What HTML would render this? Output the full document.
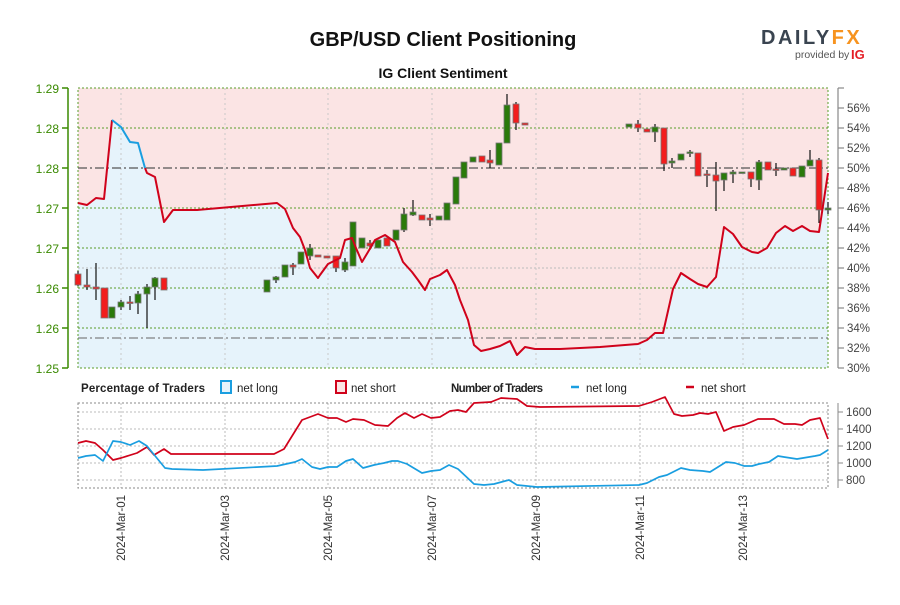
<!DOCTYPE html>
<html><head><meta charset="utf-8"><style>
body{margin:0;background:#fff;width:900px;height:600px;overflow:hidden}
svg text{font-family:"Liberation Sans",sans-serif}
</style></head><body>
<svg width="900" height="600" viewBox="0 0 900 600" xmlns="http://www.w3.org/2000/svg">
<text x="443" y="46" text-anchor="middle" font-size="20" font-weight="bold" fill="#111">GBP/USD Client Positioning</text>
<text x="443" y="78" text-anchor="middle" font-size="14" font-weight="bold" fill="#111">IG Client Sentiment</text>
<text x="761" y="44" font-size="20" font-weight="bold" fill="#3a4450" letter-spacing="2.5">DAILY<tspan fill="#f7931e">FX</tspan></text>
<text x="795" y="58" font-size="10.5" fill="#555">provided by</text>
<text x="851" y="59" font-size="13" font-weight="bold" fill="#e41e26">IG</text>

<rect x="78" y="88" width="750" height="280" fill="#fbe4e4"/>
<polygon fill="#e6f3fb" points="78,368 78,203 87,205 96,198 104,199 112,120 121,127 130,142 138,143 147,173 155,177 164,222 173,210 197,210 277,203 285,209 293,228 300,237 305,250 310,268 318,278 320,275 328,264 340,258 345,240 352,238 356,248 362,262 368,252 375,240 385,235 395,242 403,262 412,272 418,280 425,290 430,279 440,275 447,270 455,285 460,300 468,320 474,345 481,351 490,349 500,346 510,341 517,355 525,347 535,349 560,349 600,347 638,344 647,340 655,333 663,333 673,289 681,273 690,279 698,284 707,287 716,277 724,227 733,234 742,247 752,252 758,253 767,248 776,233 785,226 793,231 802,226 810,231 819,232 828,173 828,368"/>
<g stroke="#5a9e2a" stroke-dasharray="2,2" stroke-width="1">
<line x1="78" y1="128" x2="828" y2="128"/><line x1="78" y1="208" x2="828" y2="208"/><line x1="78" y1="248" x2="828" y2="248"/><line x1="78" y1="288" x2="828" y2="288"/><line x1="78" y1="328" x2="828" y2="328"/>
<rect x="78" y="88" width="750" height="280" fill="none"/>
</g>
<line x1="78" y1="268" x2="828" y2="268" stroke="#bbb" stroke-dasharray="2,2"/>
<g stroke="#c8c8c8" stroke-dasharray="2,3">
<line x1="121" y1="88" x2="121" y2="368"/><line x1="225" y1="88" x2="225" y2="368"/><line x1="328" y1="88" x2="328" y2="368"/><line x1="432" y1="88" x2="432" y2="368"/><line x1="536" y1="88" x2="536" y2="368"/><line x1="640" y1="88" x2="640" y2="368"/><line x1="743" y1="88" x2="743" y2="368"/>
</g>
<line x1="78" y1="168" x2="828" y2="168" stroke="#555" stroke-dasharray="9,3,2,3" stroke-width="1.3"/>
<line x1="78" y1="338" x2="828" y2="338" stroke="#666" stroke-dasharray="9,3,2,3" stroke-width="1.1"/>

<g stroke="#111" stroke-width="1.2">
<line x1="78" y1="271" x2="78" y2="286"/><line x1="87" y1="269" x2="87" y2="290"/><line x1="96" y1="263" x2="96" y2="300"/><line x1="104" y1="288" x2="104" y2="318"/><line x1="121" y1="300" x2="121" y2="310"/><line x1="130" y1="296" x2="130" y2="310"/><line x1="138" y1="291" x2="138" y2="314"/><line x1="147" y1="284" x2="147" y2="328"/><line x1="155" y1="277" x2="155" y2="300"/>
<line x1="276" y1="276" x2="276" y2="283"/><line x1="293" y1="263" x2="293" y2="275"/><line x1="310" y1="244" x2="310" y2="260"/><line x1="336" y1="256" x2="336" y2="272"/><line x1="345" y1="258" x2="345" y2="272"/><line x1="370" y1="240" x2="370" y2="250"/><line x1="404" y1="208" x2="404" y2="232"/><line x1="413" y1="200" x2="413" y2="216"/><line x1="430" y1="214" x2="430" y2="226"/><line x1="490" y1="150" x2="490" y2="168"/><line x1="507" y1="94" x2="507" y2="143"/><line x1="516" y1="102" x2="516" y2="130"/>
<line x1="638" y1="120" x2="638" y2="132"/><line x1="655" y1="124" x2="655" y2="142"/><line x1="664" y1="128" x2="664" y2="171"/><line x1="672" y1="158" x2="672" y2="168"/><line x1="690" y1="150" x2="690" y2="157"/><line x1="707" y1="170" x2="707" y2="187"/><line x1="716" y1="162" x2="716" y2="211"/><line x1="724" y1="173" x2="724" y2="191"/><line x1="733" y1="170" x2="733" y2="183"/><line x1="751" y1="172" x2="751" y2="187"/><line x1="759" y1="160" x2="759" y2="190"/><line x1="776" y1="163" x2="776" y2="176"/><line x1="810" y1="150" x2="810" y2="166"/><line x1="819" y1="158" x2="819" y2="223"/><line x1="828" y1="202" x2="828" y2="214"/>
</g>
<g stroke="#777" stroke-width="0.8">
<g fill="#f21d1d">
<rect x="75" y="274" width="6" height="11"/><rect x="84" y="285" width="6" height="2"/><rect x="93" y="287" width="6" height="2"/><rect x="101" y="288" width="7" height="30"/><rect x="127" y="302" width="6" height="1.5"/><rect x="161" y="278" width="6" height="12"/>
<rect x="290" y="265" width="6" height="2"/><rect x="315" y="255" width="6" height="2"/><rect x="324" y="256" width="6" height="2"/><rect x="333" y="256" width="6" height="12"/><rect x="367" y="243" width="6" height="3"/><rect x="384" y="238" width="6" height="8"/><rect x="419" y="215" width="6" height="5"/><rect x="427" y="218" width="6" height="2"/><rect x="479" y="156" width="6" height="6"/><rect x="487" y="160" width="6" height="3"/><rect x="513" y="104" width="6" height="19"/><rect x="522" y="123" width="6" height="2"/>
<rect x="635" y="124" width="6" height="4"/><rect x="644" y="129" width="6" height="3"/><rect x="661" y="128" width="6" height="36"/><rect x="695" y="153" width="6" height="23"/><rect x="704" y="174" width="6" height="1.5"/><rect x="713" y="175" width="6" height="6"/><rect x="748" y="172" width="6" height="7"/><rect x="765" y="162" width="6" height="8"/><rect x="773" y="169" width="6" height="1.5"/><rect x="790" y="168" width="6" height="8"/><rect x="816" y="160" width="6" height="50"/>
</g>
<g fill="#2a7a0a">
<rect x="109" y="307" width="6" height="11"/><rect x="118" y="302" width="6" height="5"/><rect x="135" y="294" width="6" height="9"/><rect x="144" y="287" width="6" height="7"/><rect x="152" y="278" width="6" height="9"/>
<rect x="264" y="280" width="6" height="12"/><rect x="273" y="277" width="6" height="3"/><rect x="282" y="265" width="6" height="12"/><rect x="298" y="252" width="6" height="12"/><rect x="307" y="248" width="6" height="8"/><rect x="342" y="262" width="6" height="8"/><rect x="350" y="222" width="6" height="44"/><rect x="359" y="238" width="6" height="10"/><rect x="375" y="240" width="6" height="8"/><rect x="393" y="230" width="6" height="10"/><rect x="401" y="214" width="6" height="16"/><rect x="410" y="212" width="6" height="3"/><rect x="436" y="216" width="6" height="4"/><rect x="444" y="203" width="6" height="17"/><rect x="453" y="177" width="6" height="27"/><rect x="461" y="162" width="6" height="16"/><rect x="470" y="157" width="6" height="5"/><rect x="496" y="143" width="6" height="22"/><rect x="504" y="105" width="6" height="38"/>
<rect x="626" y="124" width="6" height="3"/><rect x="652" y="127" width="6" height="5"/><rect x="669" y="161" width="6" height="2"/><rect x="678" y="154" width="6" height="6"/><rect x="687" y="152" width="6" height="1.5"/><rect x="721" y="173" width="6" height="7"/><rect x="730" y="172" width="6" height="2"/><rect x="739" y="172" width="6" height="1.5"/><rect x="756" y="162" width="6" height="18"/><rect x="781" y="168" width="6" height="2"/><rect x="799" y="166" width="6" height="11"/><rect x="807" y="160" width="6" height="6"/><rect x="825" y="208" width="6" height="2"/>
</g></g>

<polyline fill="none" stroke="#d0021b" stroke-width="2" stroke-linejoin="round" points="78,203 87,205 96,198 104,199 112,120"/>
<polyline fill="none" stroke="#d0021b" stroke-width="2" stroke-linejoin="round" points="145,168 147,173 155,177 164,222 173,210 197,210 277,203 285,209 293,228 300,237 305,250 310,268 318,278 320,275 328,264 340,258 345,240 352,238 356,248 362,262 368,252 375,240 385,235 395,242 403,262 412,272 418,280 425,290 430,279 440,275 447,270 455,285 460,300 468,320 474,345 481,351 490,349 500,346 510,341 517,355 525,347 535,349 560,349 600,347 638,344 647,340 655,333 663,333 673,289 681,273 690,279 698,284 707,287 716,277 724,227 733,234 742,247 752,252 758,253 767,248 776,233 785,226 793,231 802,226 810,231 819,232 828,173"/>
<polyline fill="none" stroke="#1a9ee0" stroke-width="2" stroke-linejoin="round" points="112,120 121,127 130,142 138,143 145,168"/>

<g stroke="#3a8a00" stroke-width="1.5"><line x1="68" y1="88" x2="68" y2="368"/>
<line x1="62" y1="88" x2="68" y2="88"/><line x1="62" y1="128" x2="68" y2="128"/><line x1="62" y1="168" x2="68" y2="168"/><line x1="62" y1="208" x2="68" y2="208"/><line x1="62" y1="248" x2="68" y2="248"/><line x1="62" y1="288" x2="68" y2="288"/><line x1="62" y1="328" x2="68" y2="328"/><line x1="62" y1="368" x2="68" y2="368"/></g>
<g font-size="12" fill="#3a8a00" text-anchor="end">
<text x="59" y="93">1.29</text><text x="59" y="133">1.28</text><text x="59" y="173">1.28</text><text x="59" y="213">1.27</text><text x="59" y="253">1.27</text><text x="59" y="293">1.26</text><text x="59" y="333">1.26</text><text x="59" y="373">1.25</text></g>
<g stroke="#888" stroke-width="1.2"><line x1="838" y1="88" x2="838" y2="368"/>
<line x1="838" y1="88" x2="844" y2="88"/><line x1="838" y1="108" x2="844" y2="108"/><line x1="838" y1="128" x2="844" y2="128"/><line x1="838" y1="148" x2="844" y2="148"/><line x1="838" y1="168" x2="844" y2="168"/><line x1="838" y1="188" x2="844" y2="188"/><line x1="838" y1="208" x2="844" y2="208"/><line x1="838" y1="228" x2="844" y2="228"/><line x1="838" y1="248" x2="844" y2="248"/><line x1="838" y1="268" x2="844" y2="268"/><line x1="838" y1="288" x2="844" y2="288"/><line x1="838" y1="308" x2="844" y2="308"/><line x1="838" y1="328" x2="844" y2="328"/><line x1="838" y1="348" x2="844" y2="348"/><line x1="838" y1="368" x2="844" y2="368"/></g>
<g font-size="11.5" fill="#444">
<text x="847" y="112">56%</text><text x="847" y="132">54%</text><text x="847" y="152">52%</text><text x="847" y="172">50%</text><text x="847" y="192">48%</text><text x="847" y="212">46%</text><text x="847" y="232">44%</text><text x="847" y="252">42%</text><text x="847" y="272">40%</text><text x="847" y="292">38%</text><text x="847" y="312">36%</text><text x="847" y="332">34%</text><text x="847" y="352">32%</text><text x="847" y="372">30%</text></g>

<g font-size="11.5" fill="#222">
<text x="81" y="392" font-weight="bold" textLength="124">Percentage of Traders</text>
<rect x="221" y="381" width="10" height="12" fill="#e6f3fb" stroke="#1a9ee0" stroke-width="2"/><text x="237" y="392">net long</text>
<rect x="336" y="381" width="10" height="12" fill="#fbe4e4" stroke="#d0021b" stroke-width="2"/><text x="351" y="392">net short</text>
<text x="451" y="392" font-weight="bold" textLength="92">Number of Traders</text>
<line x1="571" y1="387" x2="579" y2="387" stroke="#1a9ee0" stroke-width="2.5"/><text x="586" y="392">net long</text>
<line x1="686" y1="387" x2="694" y2="387" stroke="#d0021b" stroke-width="2.5"/><text x="701" y="392">net short</text>
</g>

<g stroke="#bbb" stroke-dasharray="2,2">
<line x1="78" y1="412" x2="828" y2="412"/><line x1="78" y1="429" x2="828" y2="429"/><line x1="78" y1="446" x2="828" y2="446"/><line x1="78" y1="463" x2="828" y2="463"/><line x1="78" y1="480" x2="828" y2="480"/>
<line x1="121" y1="403" x2="121" y2="488"/><line x1="225" y1="403" x2="225" y2="488"/><line x1="328" y1="403" x2="328" y2="488"/><line x1="432" y1="403" x2="432" y2="488"/><line x1="536" y1="403" x2="536" y2="488"/><line x1="640" y1="403" x2="640" y2="488"/><line x1="743" y1="403" x2="743" y2="488"/>
</g>
<rect x="78" y="403" width="750" height="85" fill="none" stroke="#888" stroke-dasharray="2,2"/>
<polyline fill="none" stroke="#d0021b" stroke-width="1.7" stroke-linejoin="round" points="78,443 86,441 95,443 103,450 113,460 121,458 137,453 147,447 154,455 164,449 171,454 274,454 284,449 302,420 318,414 328,418 337,418 346,422 353,419 364,420 375,425 388,426 397,418 405,413 414,418 422,414 431,418 440,417 450,411 458,410 466,412 474,403 491,402 501,398 517,399 527,406 540,407 639,406 652,402 665,397 674,414 682,416 693,415 700,413 708,414 716,412 724,431 733,427 744,425 758,419 764,419 774,419 784,424 795,424 802,425 810,420 820,418 828,439"/>
<polyline fill="none" stroke="#1a9ee0" stroke-width="1.7" stroke-linejoin="round" points="78,458 86,456 95,455 103,461 113,441 121,442 130,445 139,441 147,446 165,468 172,469 203,470 277,466 295,462 302,459 312,467 320,469 328,467 337,467 346,461 353,459 363,468 374,465 384,463 392,461 398,461 407,464 422,473 431,471 440,470 449,465 458,469 474,484 484,485 494,484 509,480 517,485 537,487 639,485 647,483 659,477 667,475 681,468 690,470 703,471 710,472 726,462 735,463 744,466 752,466 759,464 769,462 778,456 784,457 797,459 815,456 820,455 828,450"/>
<g stroke="#888"><line x1="838" y1="403" x2="838" y2="488"/>
<line x1="838" y1="412" x2="843" y2="412"/><line x1="838" y1="429" x2="843" y2="429"/><line x1="838" y1="446" x2="843" y2="446"/><line x1="838" y1="463" x2="843" y2="463"/><line x1="838" y1="480" x2="843" y2="480"/></g>
<g font-size="11.5" fill="#444">
<text x="846" y="416">1600</text><text x="846" y="433">1400</text><text x="846" y="450">1200</text><text x="846" y="467">1000</text><text x="846" y="484">800</text></g>
<g font-size="11.5" fill="#333" text-anchor="end">
<text transform="translate(125,495) rotate(-90)">2024-Mar-01</text>
<text transform="translate(229,495) rotate(-90)">2024-Mar-03</text>
<text transform="translate(332,495) rotate(-90)">2024-Mar-05</text>
<text transform="translate(436,495) rotate(-90)">2024-Mar-07</text>
<text transform="translate(540,495) rotate(-90)">2024-Mar-09</text>
<text transform="translate(644,495) rotate(-90)">2024-Mar-11</text>
<text transform="translate(747,495) rotate(-90)">2024-Mar-13</text>
</g>
</svg>
</body></html>
